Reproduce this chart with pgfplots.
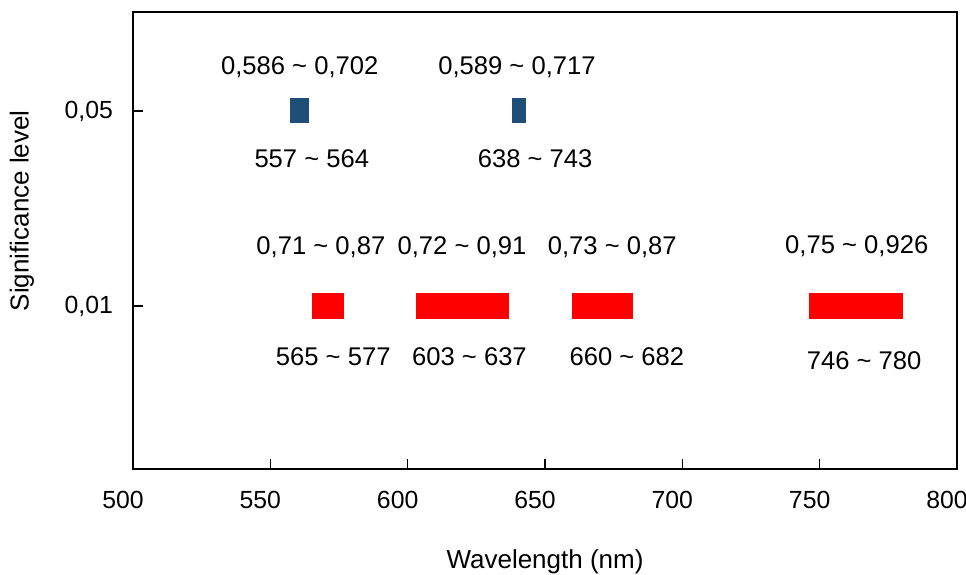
\documentclass[border=0pt]{standalone}
\usepackage{fontspec}
\setmainfont{Liberation Sans}
\usepackage{pgfplots}
\pgfplotsset{compat=1.18}

\definecolor{barblue}{RGB}{31,78,121}
\definecolor{barred}{RGB}{255,0,0}

\begin{document}
\begin{tikzpicture}
\begin{axis}[
    name=ax,
    scale only axis,
    width=412pt, height=228.5pt,
    xmin=500, xmax=800, ymin=0.164, ymax=2.508,
    xtick={500,550,...,800},
    ytick={1,2}, yticklabels={{0,01},{0,05}},
    tick pos=left, tick align=inside,
    major tick length=5pt,
    axis line style={line width=1.1pt},
    tick style={line width=0.6pt, black},
    /pgf/number format/assume math mode=true,
    /pgf/number format/1000 sep={},
    ticklabel style={font=\fontsize{12.4}{14}\selectfont},
    xticklabel style={xshift=-5pt, yshift=-7.5pt},
    yticklabel style={xshift=-6.5pt},
    xlabel={Wavelength (nm)},
    ylabel={Significance level},
    label style={font=\fontsize{13}{15}\selectfont},
    xlabel style={at={(rel axis cs:0.5,0)}, anchor=center, yshift=-46.5pt},
    ylabel style={at={(rel axis cs:-0.1347,0.565)}, anchor=center},
    clip=false,
]
  % p = 0.05 bands
  \addplot[draw=none, fill=barblue] coordinates {(557,1.938) (564,1.938) (564,2.068) (557,2.068)};
  \addplot[draw=none, fill=barblue] coordinates {(638,1.938) (643,1.938) (643,2.068) (638,2.068)};
  % p = 0.01 bands
  \addplot[draw=none, fill=barred] coordinates {(565,0.933) (577,0.933) (577,1.067) (565,1.067)};
  \addplot[draw=none, fill=barred] coordinates {(603,0.933) (637,0.933) (637,1.067) (603,1.067)};
  \addplot[draw=none, fill=barred] coordinates {(660,0.933) (682,0.933) (682,1.067) (660,1.067)};
  \addplot[draw=none, fill=barred] coordinates {(746,0.933) (780.5,0.933) (780.5,1.067) (746,1.067)};

  \begin{scope}[every node/.style={font=\fontsize{12.8}{15}\selectfont}]
  \node at (axis cs:560.7,2.226) {0,586 \textasciitilde{} 0,702};
  \node at (axis cs:565.1,1.756) {557 \textasciitilde{} 564};
  \node at (axis cs:639.8,2.226) {0,589 \textasciitilde{} 0,717};
  \node at (axis cs:646.4,1.756) {638 \textasciitilde{} 743};
  \node at (axis cs:568.4,1.300) {0,71 \textasciitilde{} 0,87};
  \node at (axis cs:619.8,1.300) {0,72 \textasciitilde{} 0,91};
  \node at (axis cs:674.5,1.300) {0,73 \textasciitilde{} 0,87};
  \node at (axis cs:763.5,1.305) {0,75 \textasciitilde{} 0,926};
  \node at (axis cs:572.9,0.738) {565 \textasciitilde{} 577};
  \node at (axis cs:622.5,0.738) {603 \textasciitilde{} 637};
  \node at (axis cs:679.8,0.738) {660 \textasciitilde{} 682};
  \node at (axis cs:766.2,0.718) {746 \textasciitilde{} 780};
  \end{scope}
\end{axis}
\pgfresetboundingbox
\path ([shift={(-66.5pt,-52.5pt)}]ax.south west) rectangle ([shift={(4.5pt,6pt)}]ax.north east);
\end{tikzpicture}
\end{document}
